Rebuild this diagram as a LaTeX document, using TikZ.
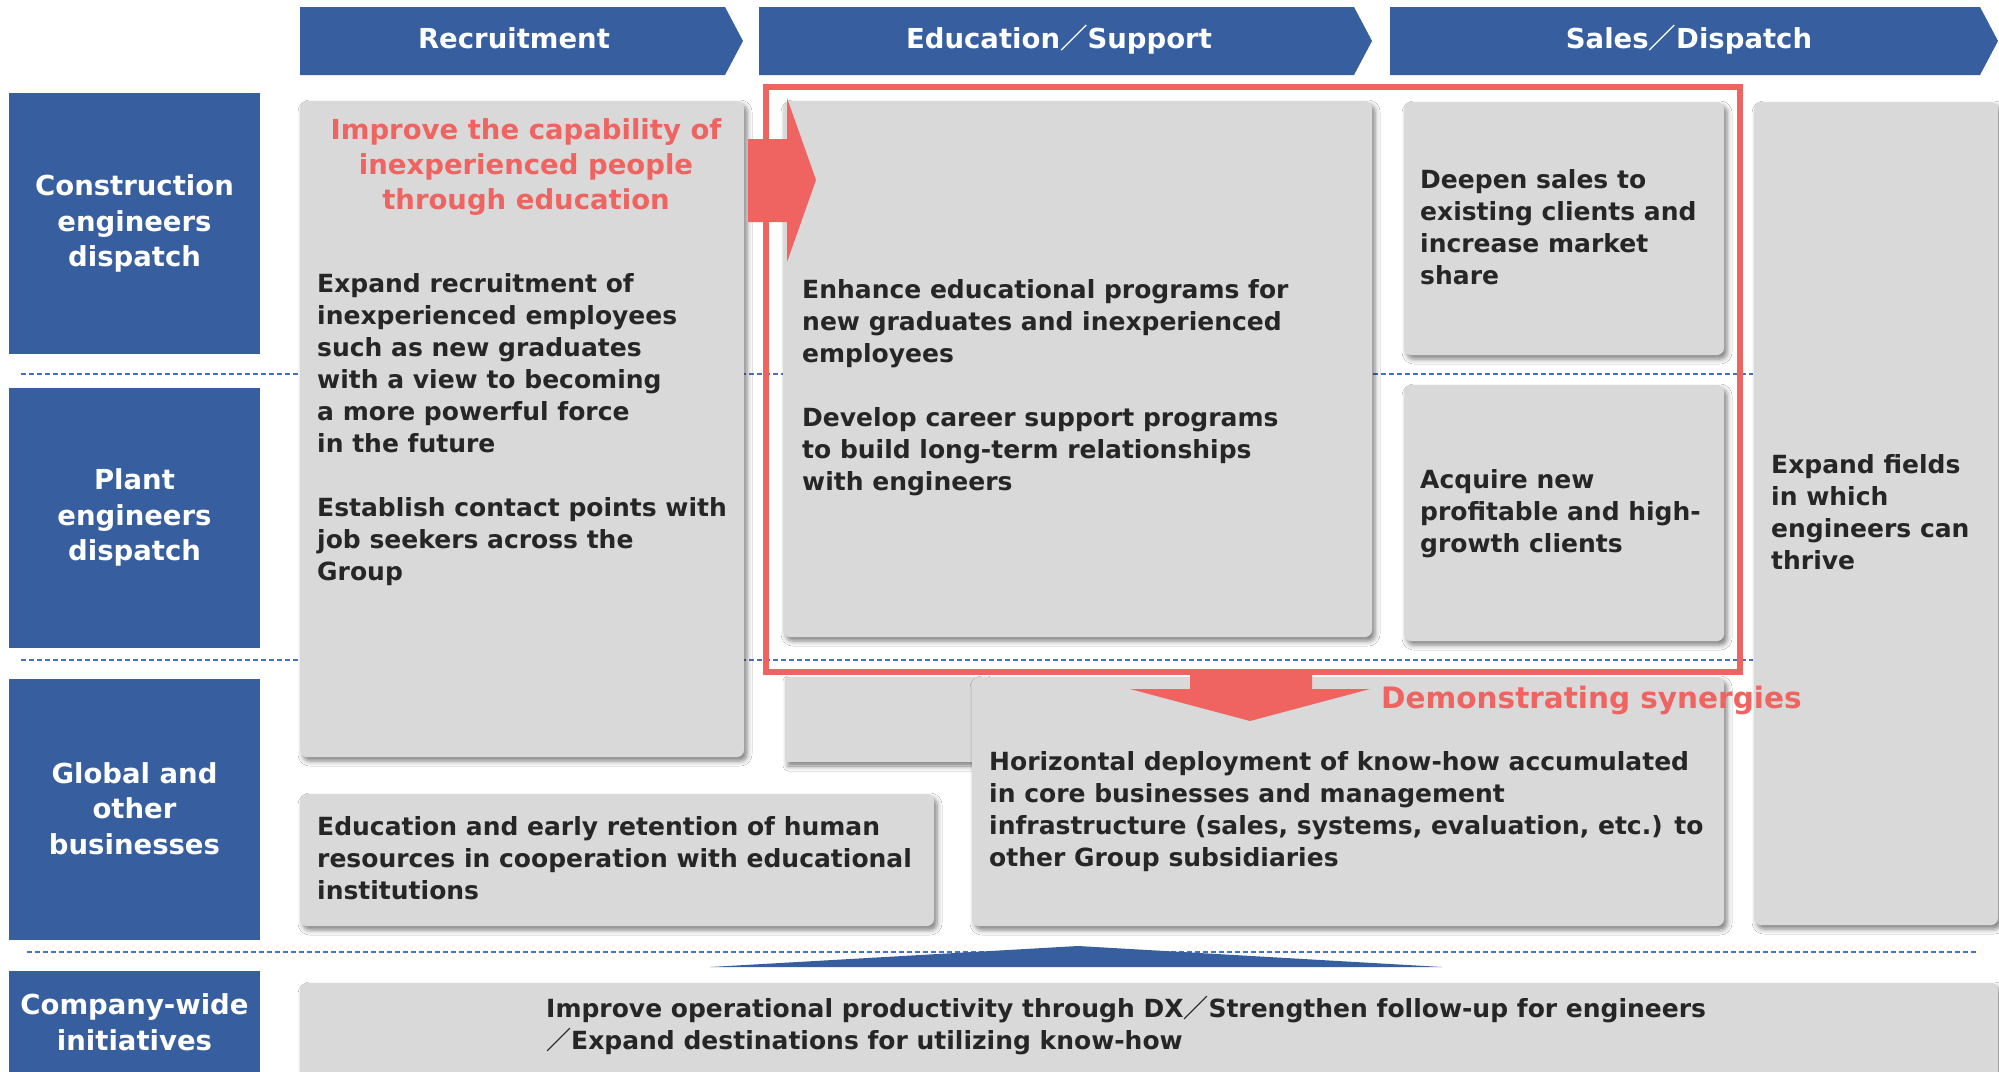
\documentclass[tikz,border=0pt]{standalone}
\usepackage{fontspec}
\setmainfont{DejaVu Sans}
\newfontfamily\cjk{Noto Sans CJK JP}
\usetikzlibrary{shadows.blur}
\definecolor{hblue}{RGB}{55,94,159}
\definecolor{bgray}{RGB}{217,217,217}
\definecolor{sred}{RGB}{239,99,96}
\definecolor{tdark}{RGB}{38,38,38}
\definecolor{dblue}{RGB}{68,114,196}
\newcommand{\fsl}{{\cjk\bfseries ／}}
\begin{document}
\begin{tikzpicture}[x=1pt,y=-1pt,
  box/.style={fill=bgray, rounded corners=7pt, blur shadow={shadow xshift=3pt, shadow yshift=-4pt, shadow blur radius=5pt, shadow opacity=50}},
  sqbox/.style={fill=bgray, blur shadow={shadow xshift=3pt, shadow yshift=-4pt, shadow blur radius=5pt, shadow opacity=50}},
  hdr/.style={fill=hblue},
  hdrtxt/.style={text=white, font=\fontsize{27.5}{33}\selectfont\bfseries, inner sep=0pt, anchor=base},
  lbl/.style={fill=hblue},
  lbltxt/.style={text=white, align=center, font=\fontsize{27.5}{35.5}\selectfont\bfseries, inner sep=0pt},
  body/.style={text=tdark, align=left, anchor=north west, font=\fontsize{25}{32}\selectfont\bfseries, inner sep=0pt},
  sepline/.style={dblue, dash pattern=on 5pt off 3pt, line width=1.5pt}]
\useasboundingbox[fill=white] (0,0) rectangle (1999,1071);

% separator lines
\draw[sepline] (21,374) -- (1753,374);
\draw[sepline] (21,660) -- (1753,660);
\draw[sepline] (27,952) -- (1979,952);

% headers
\fill[hdr] (300,7) -- (725,7) -- (743,41) -- (725,75) -- (300,75) -- cycle;
\fill[hdr] (759,7) -- (1354,7) -- (1372,41) -- (1354,75) -- (759,75) -- cycle;
\fill[hdr] (1390,7) -- (1980,7) -- (1998,41) -- (1980,75) -- (1390,75) -- cycle;
\node[hdrtxt] (hrec) at (514,48.5) {Recruitment};
\node[hdrtxt] (hedu) at (1059,48.5) {Education\fsl Support};
\node[hdrtxt] (hsal) at (1689,48.5) {Sales\fsl Dispatch};

% row labels
\fill[lbl] (9,93) rectangle (260,354);
\fill[lbl] (9,388) rectangle (260,648);
\fill[lbl] (9,679) rectangle (260,940);
\fill[lbl] (9,971) rectangle (260,1080);
\node[lbltxt] (lcon) at (134.5,223.5) {Construction\\engineers\\dispatch};
\node[lbltxt] (lpla) at (134.5,517.5) {Plant\\engineers\\dispatch};
\node[lbltxt] (lglo) at (134.5,808.5) {Global and\\other\\businesses};
\node[lbltxt] (lcom) at (134.5,1022) {Company-wide\\initiatives};

% gray boxes
\path[box] (300,101) rectangle (744,757);
\path[box] (783,101) rectangle (1372,637);
\path[box] (1404,102) rectangle (1724,355);
\path[box] (1404,385) rectangle (1724,641);
\path[box] (1754,102) rectangle (1998,925);
\path[sqbox] (785,677) rectangle (985,762);
\path[box] (972,677) rectangle (1724,926);
\path[box] (300,794) rectangle (934,926);
\path[box] (300,983) rectangle (1998,1090);

% red frame
\draw[sred, line width=6pt] (765.5,87) rectangle (1740,672);

% red arrows
\fill[sred] (748,139) -- (787,139) -- (787,98) -- (816,180) -- (787,262) -- (787,222) -- (748,222) -- cycle;
\fill[sred] (1190,672) -- (1312,672) -- (1312,689) -- (1370,689) -- (1250,721) -- (1130,689) -- (1190,689) -- cycle;

% blue up arrow
\fill[hblue] (710,967) -- (1078,946) -- (1442,967) -- cycle;

% texts
\node[text=sred, align=center, font=\fontsize{27.5}{35}\selectfont\bfseries, inner sep=0pt] (imp) at (526,167) {Improve the capability of\\inexperienced people\\through education};
\node[body] (trec) at (317,273) {Expand recruitment of\\inexperienced employees\\such as new graduates\\with a view to becoming\\a more powerful force\\in the future\\[32pt]Establish contact points with\\job seekers across the\\Group};
\node[body] (tedu) at (802,279) {Enhance educational programs for\\new graduates and inexperienced\\employees\\[32pt]Develop career support programs\\to build long-term relationships\\with engineers};
\node[body] (tdee) at (1420,169) {Deepen sales to\\existing clients and\\increase market\\share};
\node[body] (tacq) at (1420,469) {Acquire new\\profitable and high-\\growth clients};
\node[body] (texp) at (1771,454) {Expand fields\\in which\\engineers can\\thrive};
\node[body] (tear) at (317,816) {Education and early retention of human\\resources in cooperation with educational\\institutions};
\node[body] (thor) at (989,751) {Horizontal deployment of know-how accumulated\\in core businesses and management\\infrastructure (sales, systems, evaluation, etc.) to\\other Group subsidiaries};
\node[body] (tcom) at (546,996) {Improve operational productivity through DX\fsl Strengthen follow-up for engineers\\\fsl Expand destinations for utilizing know-how};
\node[text=sred, anchor=west, font=\fontsize{29.5}{34}\selectfont\bfseries, inner sep=0pt] (syn) at (1381,700) {Demonstrating synergies};
\end{tikzpicture}
\end{document}
